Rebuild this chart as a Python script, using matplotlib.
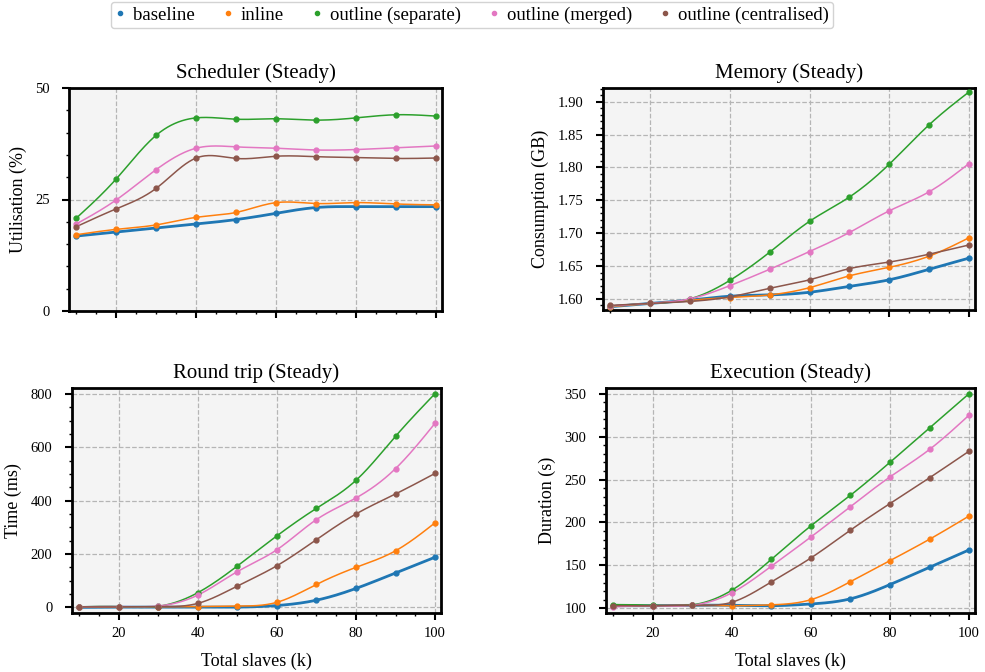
import numpy as np
import matplotlib
matplotlib.use('Agg')
from matplotlib import pyplot as plt
from matplotlib.lines import Line2D
from matplotlib.ticker import MultipleLocator, AutoMinorLocator, FormatStrFormatter

plt.rcParams['font.family'] = ['Liberation Serif', 'DejaVu Serif']

slaves = [10, 20, 30, 40, 50, 60, 70, 80, 90, 100]
names = ['baseline', 'inline', 'outline (separate)', 'outline (merged)', 'outline (centralised)']
colours = ['#1f77b4', '#ff7f0e', '#2ca02c', '#e377c2', '#8c564b']

scheduler = {
    'baseline': [16.8, 17.7, 18.6, 19.5, 20.5, 21.9, 23.2, 23.4, 23.4, 23.4],
    'inline': [17.1, 18.3, 19.3, 21.0, 22.1, 24.3, 24.1, 24.3, 24.0, 23.8],
    'outline (separate)': [20.8, 29.6, 39.4, 43.3, 43.0, 43.1, 42.8, 43.3, 44.0, 43.7],
    'outline (merged)': [19.5, 24.9, 31.7, 36.5, 36.8, 36.5, 36.1, 36.2, 36.6, 37.0],
    'outline (centralised)': [18.9, 22.9, 27.5, 34.3, 34.2, 34.7, 34.6, 34.4, 34.2, 34.3],
}
memory = {
    'baseline': [1.588, 1.593, 1.598, 1.604, 1.606, 1.610, 1.619, 1.629, 1.645, 1.662],
    'inline': [1.588, 1.593, 1.598, 1.602, 1.606, 1.617, 1.635, 1.648, 1.665, 1.693],
    'outline (separate)': [1.589, 1.593, 1.600, 1.628, 1.671, 1.718, 1.755, 1.805, 1.865, 1.915],
    'outline (merged)': [1.589, 1.593, 1.600, 1.620, 1.645, 1.672, 1.701, 1.734, 1.763, 1.806],
    'outline (centralised)': [1.590, 1.593, 1.596, 1.603, 1.616, 1.629, 1.646, 1.656, 1.668, 1.682],
}
round_trip = {
    'baseline': [0, 1, 1, 1, 1, 7, 27, 71, 129, 188],
    'inline': [1, 2, 2, 3, 5, 19, 86, 150, 212, 317],
    'outline (separate)': [2, 3, 4, 55, 155, 268, 371, 476, 641, 801],
    'outline (merged)': [2, 3, 5, 46, 134, 216, 329, 410, 520, 690],
    'outline (centralised)': [2, 2, 3, 15, 80, 156, 254, 350, 425, 502],
}
execution = {
    'baseline': [103, 103, 103.5, 103.5, 103, 105, 111, 127.6, 147.7, 168],
    'inline': [103, 103, 103.5, 103, 104, 110, 131, 155.5, 180.4, 207.5],
    'outline (separate)': [104.3, 103.5, 103.9, 121, 157, 196, 231.6, 270, 310, 350],
    'outline (merged)': [101.6, 103, 103.5, 118, 149, 183, 218.4, 253, 285, 325],
    'outline (centralised)': [103, 103, 103.5, 107, 130.7, 158.6, 191, 222, 252, 283],
}


def spline(x, y, n=300):
    # natural cubic spline through the measured points, for a smooth line
    x = np.asarray(x, float)
    y = np.asarray(y, float)
    k = len(x)
    h = np.diff(x)
    a = np.zeros((k, k))
    b = np.zeros(k)
    a[0, 0] = a[-1, -1] = 1
    for i in range(1, k - 1):
        a[i, i - 1] = h[i - 1]
        a[i, i] = 2 * (h[i - 1] + h[i])
        a[i, i + 1] = h[i]
        b[i] = 6 * ((y[i + 1] - y[i]) / h[i] - (y[i] - y[i - 1]) / h[i - 1])
    m = np.linalg.solve(a, b)
    xs = np.linspace(x[0], x[-1], n)
    j = np.clip(np.searchsorted(x, xs) - 1, 0, k - 2)
    t0 = x[j + 1] - xs
    t1 = xs - x[j]
    hj = h[j]
    ys = (m[j] * t0 ** 3 + m[j + 1] * t1 ** 3) / (6 * hj) \
        + (y[j] / hj - m[j] * hj / 6) * t0 + (y[j + 1] / hj - m[j + 1] * hj / 6) * t1
    return xs, ys


def draw(ax, data, title, ylabel, ylim, major, xlabel=None):
    for name, c in zip(names, colours):
        lw = 2.0 if name == 'baseline' else 1.1
        xs, ys = spline(slaves, data[name])
        ax.plot(xs, ys, color=c, lw=lw, zorder=3)
        ax.plot(slaves, data[name], 'o', color=c, ms=3.5, zorder=4)
    ax.set_facecolor('#f4f4f4')
    ax.set_title(title, fontsize=15, pad=7)
    ax.set_ylabel(ylabel, fontsize=13, labelpad=6)
    if xlabel:
        ax.set_xlabel(xlabel, fontsize=13, labelpad=9)
    ax.set_xlim(8.2, 101.5)
    ax.set_ylim(*ylim)
    ax.xaxis.set_major_locator(MultipleLocator(20))
    ax.yaxis.set_major_locator(MultipleLocator(major))
    ax.xaxis.set_minor_locator(AutoMinorLocator())
    ax.yaxis.set_minor_locator(AutoMinorLocator())
    ax.grid(True, which='major', ls='--', color='#b5b5b5', lw=0.9)
    for s in ax.spines.values():
        s.set_linewidth(2)
    ax.tick_params(which='major', length=5, width=1.5, labelsize=10.5, pad=5)
    ax.tick_params(axis='y', which='major', pad=9)
    ax.tick_params(which='minor', length=2.5, width=1)


fig = plt.figure(figsize=(9.85, 6.72), dpi=100)
W, H = 985, 672


def box(l, t, r, b):
    return fig.add_axes([l / W, 1 - b / H, (r - l) / W, (b - t) / H])


ax1 = box(69, 88, 442, 311)
ax2 = box(603, 88, 975, 310)
ax3 = box(72, 388, 441, 613)
ax4 = box(606, 388, 975, 613)

draw(ax1, scheduler, 'Scheduler (Steady)', 'Utilisation (%)', (0, 50), 25)
draw(ax2, memory, 'Memory (Steady)', 'Consumption (GB)', (1.583, 1.921), 0.05)
draw(ax3, round_trip, 'Round trip (Steady)', 'Time (ms)', (-21, 822), 200, 'Total slaves (k)')
draw(ax4, execution, 'Execution (Steady)', 'Duration (s)', (94.5, 356.6), 50, 'Total slaves (k)')
ax1.tick_params(labelbottom=False)
ax2.tick_params(labelbottom=False)
ax2.yaxis.set_major_formatter(FormatStrFormatter('%.2f'))

handles = [Line2D([], [], ls='none', marker='o', ms=3, color=c) for c in colours]
fig.legend(handles, names, loc='center', bbox_to_anchor=(472 / W, 1 - 15 / H), ncol=5,
           fontsize=13.5, frameon=True, fancybox=True, edgecolor='#c8c8c8',
           handlelength=0.5, handletextpad=0.45, columnspacing=1.5, borderpad=0.25)

fig.savefig('out.png', dpi=100)
